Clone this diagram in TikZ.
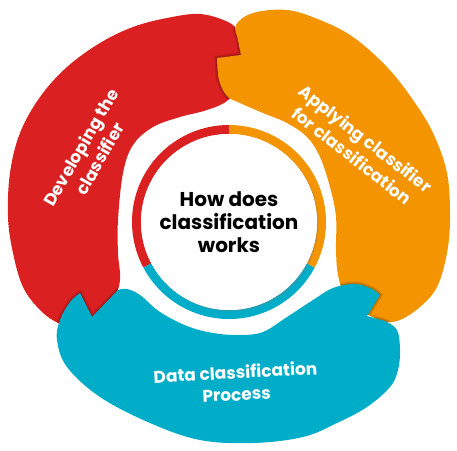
\documentclass[tikz,border=0pt]{standalone}
\usepackage{fontspec}
\setmainfont{Poppins}
\usetikzlibrary{shadows}

\definecolor{clsred}{HTML}{DA2020}
\definecolor{clsorange}{HTML}{F39400}
\definecolor{clsteal}{HTML}{00ADC9}

% outlines of the three pieces
\newcommand{\redblob}{plot[smooth cycle, tension=0.6] coordinates {
      (228,428) (200,436) (167,432) (133,423) (100,407) (67,383)
      (40,353) (20,317) (10,277) (8,233) (13,197) (23,163)
      (40,140) (58,127) (80,120) (95,128) (113,150) (120,170)
      (118,197) (118,230) (123,277) (133,305) (153,323) (180,333)
      (207,340) (228,350) (242,372) (245,398) (238,418)
    }}
\newcommand{\orangeblob}{plot[smooth, tension=0.6] coordinates {
      (217,392) (219,370) (227,354) (240,347) (263,337) (287,327)
      (307,313) (320,293) (330,263) (336,233) (336,200) (338,175)
      (345,155) (360,140) (375,132) (385,128) (400,130) (420,143)
      (437,163) (447,197) (450,233) (447,277) (433,317) (413,350)
      (387,383) (353,413) (320,430) (287,440) (253,437) (236,425)
      (238,410) (241,395)
    } -- cycle}
\newcommand{\tealblob}{plot[smooth, tension=0.6] coordinates {
      (118,160) (127,161) (140,155) (160,138) (187,124) (213,117)
      (240,115) (263,118) (287,133) (313,150) (333,162) (355,166)
      (372,161) (380,155)
    } -- (367,134) -- plot[smooth, tension=0.6] coordinates {
      (385,129) (397,120) (400,100) (398,80) (390,63) (367,43)
      (337,27) (303,13) (253,7) (200,10) (150,27) (100,53)
      (67,83) (57,110) (60,130) (70,148) (80,157)
    } -- (92,133) -- cycle}

\begin{document}
\begin{tikzpicture}[x=1pt, y=1pt,
    piecetext/.style={text=white, align=center, inner sep=0pt,
      font=\bfseries\fontsize{17}{22}\selectfont},
    hub/.style={circle, fill=white, minimum size=176pt, inner sep=0pt,
      align=center, font=\bfseries\fontsize{20}{23}\selectfont,
      drop shadow={opacity=0.3, shadow xshift=1.5pt, shadow yshift=-1.5pt}},
    ringpart/.style={line width=9pt}]

  \useasboundingbox (0,0) rectangle (457,450);

  % Pieces, each one lying over the one before
  \fill[clsred] \redblob;
  \begin{scope}
    \clip \redblob;
    \draw[black, opacity=0.12, line width=5pt] \orangeblob;
    \draw[black, opacity=0.15, line width=2pt] \orangeblob;
  \end{scope}
  \fill[clsorange] \orangeblob;
  \begin{scope}
    \clip \redblob \orangeblob;
    \draw[black, opacity=0.12, line width=5pt] \tealblob;
    \draw[black, opacity=0.15, line width=2pt] \tealblob;
  \end{scope}
  \fill[clsteal] \tealblob;

  % Ring round the centre
  \draw[ringpart, clsred] (229,228) ++(90:92.5)
    arc[start angle=90, end angle=208, radius=92.5];
  \draw[ringpart, clsteal] (229,228) ++(208:92.5)
    arc[start angle=208, end angle=332, radius=92.5];
  \draw[ringpart, clsorange] (229,228) ++(332:92.5)
    arc[start angle=332, end angle=450, radius=92.5];

  \node[hub] (hub) at (229,228) {How does\\classification\\works};

	\node[piecetext, rotate=60] (develop) at (90,297) {Developing the\\classifier};
	\node[piecetext, rotate=-38] (apply) at (359,303) {Applying classifier\\for classification};
	\node[piecetext, rotate=3] (process) at (236,67) {Data classification\\Process};

\end{tikzpicture}
\end{document}
